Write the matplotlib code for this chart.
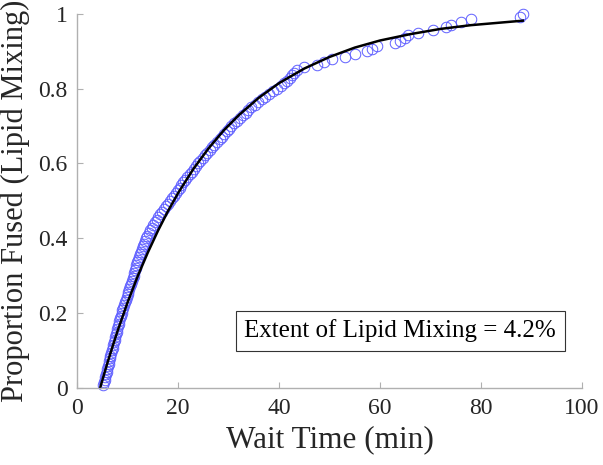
import numpy as np
import matplotlib
matplotlib.use('Agg')
import matplotlib.pyplot as plt

# wait times (min) of the individual lipid-mixing events
wait_times = [
    5.2, 5.4, 5.5, 5.6, 5.7, 5.85, 6.0,
    6.1, 6.25, 6.4, 6.5, 6.6, 6.75, 6.9,
    7.0, 7.15, 7.3, 7.4, 7.5, 7.65, 7.8,
    7.95, 8.1, 8.2, 8.35, 8.5, 8.65, 8.8,
    8.95, 9.1, 9.3, 9.5, 9.65, 9.8, 10.0,
    10.15, 10.3, 10.5, 10.7, 10.85, 11.0, 11.2,
    11.35, 11.5, 11.6, 11.75, 11.9, 12.05, 12.2,
    12.4, 12.6, 12.8, 13.0, 13.2, 13.4, 13.6,
    13.9, 14.2, 14.5, 14.8, 15.1, 15.4, 15.8,
    16.1, 16.5, 16.8, 17.2, 17.5, 17.9, 18.3,
    18.7, 19.1, 19.5, 19.9, 20.3, 20.6, 21.0,
    21.4, 21.8, 22.3, 22.7, 23.1, 23.5, 24.0,
    24.4, 24.9, 25.4, 25.8, 26.3, 26.8, 27.2,
    27.7, 28.2, 28.7, 29.1, 29.6, 30.0, 30.5,
    31.0, 31.6, 32.2, 32.8, 33.4, 33.9, 34.5,
    35.2, 35.9, 36.6, 37.3, 38.0, 38.8, 39.5,
    40.3, 41.0, 41.6, 42.1, 42.6, 43.0, 43.5,
    45.0, 47.5, 49.0, 50.5, 53.0, 55.0, 57.5,
    58.5, 59.5, 63.0, 64.0, 65.0, 65.5, 67.5,
    70.5, 73.0, 74.0, 76.0, 78.0, 87.8, 88.3,
]

# fitted curve, sampled off the plot
fit_x = [4.55, 5, 6, 7, 8, 10, 12, 14, 16, 18, 20, 23, 26, 29, 32, 36, 40,
         45, 50, 55, 60, 66, 72, 78, 84, 88.3]
fit_y = [0.0, 0.021, 0.067, 0.110, 0.152, 0.229, 0.299, 0.362, 0.420, 0.473,
         0.521, 0.585, 0.640, 0.688, 0.729, 0.776, 0.815, 0.854, 0.885, 0.910,
         0.929, 0.946, 0.960, 0.970, 0.977, 0.982]

extent_label = 'Extent of Lipid Mixing = 4.2%'
x_ticks = [0, 20, 40, 60, 80, 100]
y_ticks = [0, 0.2, 0.4, 0.6, 0.8, 1]

plt.rcParams['font.family'] = ['Liberation Serif', 'DejaVu Serif']

t = np.sort(np.array(wait_times))
proportion = np.arange(1, len(t) + 1) / len(t)

fig = plt.figure(figsize=(6.03, 4.65), dpi=100)
ax = fig.add_axes([0.128, 0.166, 0.837, 0.804])

ax.plot(t, proportion, 'o', mfc='none', mec='#5f5fff', ms=7.6, mew=0.7,
        clip_on=False)
ax.plot(fit_x, fit_y, '-', color='black', lw=1.8)

ax.set_xlim(0, 100)
ax.set_ylim(0, 1)
ax.set_xticks(x_ticks)
ax.set_yticks(y_ticks)
ax.set_yticklabels(['0', '0.2', '0.4', '0.6', '0.8', '1'])

for side in ['top', 'right']:
    ax.spines[side].set_visible(False)
for side in ['left', 'bottom']:
    ax.spines[side].set_color('#b0b0b0')
    ax.spines[side].set_linewidth(1.0)
ax.tick_params(direction='in', length=4, width=0.8, color='#b0b0b0',
               labelsize=17, labelcolor='#262626', pad=7)

ax.set_xlabel('Wait Time (min)', fontsize=22.5, color='#262626', labelpad=5)
ax.set_ylabel('Proportion Fused (Lipid Mixing)', fontsize=22, color='#262626',
              labelpad=6)

ax.text(0.64, 0.152, extent_label, transform=ax.transAxes, ha='center',
        va='center', fontsize=18, color='black',
        bbox=dict(boxstyle='square,pad=0.35', facecolor='white',
                  edgecolor='#333333', linewidth=0.8))

fig.savefig('out.png', dpi=100)
plt.close(fig)
